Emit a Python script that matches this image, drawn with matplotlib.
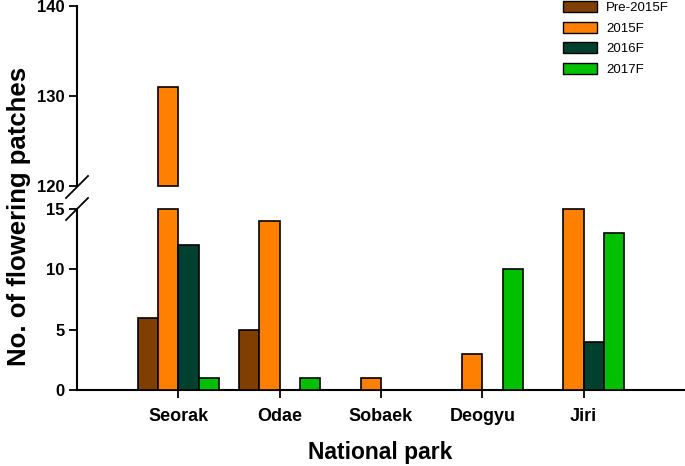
import numpy as np
import matplotlib.pyplot as plt
from matplotlib.patches import Patch

# data
parks = ['Seorak', 'Odae', 'Sobaek', 'Deogyu', 'Jiri']
series = ['Pre-2015F', '2015F', '2016F', '2017F']
pre2015 = [6, 5, 0, 0, 0]
f2015 = [131, 14, 1, 3, 15]
f2016 = [12, 0, 0, 0, 4]
f2017 = [1, 1, 0, 10, 13]
colors = ['#7f3f00', '#ff8000', '#00402f', '#00c000']

plt.rcParams['font.family'] = ['Liberation Sans', 'DejaVu Sans']

fig = plt.figure(figsize=(6.85, 4.66), dpi=100)
left, right = 77 / 685, 1.0
ax_top = fig.add_axes([left, 1 - 186 / 466, right - left, 180 / 466])
ax_bot = fig.add_axes([left, 1 - 390 / 466, right - left, 181 / 466])

x = np.arange(len(parks))
w = 0.2
for i, vals in enumerate([pre2015, f2015, f2016, f2017]):
    xs = x + (i - 1.5) * w
    for xi, v in zip(xs, vals):
        if v == 0:
            continue
        ax_bot.bar(xi, min(v, 15), w, color=colors[i], edgecolor='black',
                   linewidth=1.2, clip_on=False, zorder=3)
        if v > 120:
            ax_top.bar(xi, v - 120, w, bottom=120, color=colors[i],
                       edgecolor='black', linewidth=1.2, clip_on=False, zorder=3)

for ax in (ax_top, ax_bot):
    ax.set_xlim(-1, 5)
    for s in ('top', 'right'):
        ax.spines[s].set_visible(False)
    ax.spines['left'].set_linewidth(1.5)
    ax.tick_params(axis='y', direction='out', length=6, width=1.3, labelsize=12, pad=3)

ax_top.set_ylim(120, 140)
ax_top.set_yticks([120, 130, 140])
ax_top.spines['bottom'].set_visible(False)
ax_top.set_xticks([])
for lab in ax_top.get_yticklabels():
    lab.set_fontweight('bold')

ax_bot.set_ylim(0, 15)
ax_bot.set_yticks([0, 5, 10, 15])
ax_bot.spines['bottom'].set_linewidth(1.5)
ax_bot.set_xticks(x)
ax_bot.set_xticklabels(parks, fontsize=13, fontweight='bold')
ax_bot.tick_params(axis='x', direction='out', length=6, width=1.3, pad=7)
for lab in ax_bot.get_yticklabels():
    lab.set_fontweight('bold')

# break marks on the y axis
for yy in (187, 209):
    fig.add_artist(plt.Line2D([66 / 685, 88 / 685],
                              [1 - (yy + 11) / 466, 1 - (yy - 11) / 466],
                              color='black', linewidth=1.3))

handles = [Patch(facecolor=c, edgecolor='black', label=s) for c, s in zip(colors, series)]
ax_top.legend(handles=handles, loc='upper left', bbox_to_anchor=(0.779, 1.093),
              frameon=False, fontsize=9.5, handlelength=2.6, handleheight=0.9,
              labelspacing=0.57, handletextpad=0.7)

fig.text(19 / 685, 1 - 216 / 466, 'No. of flowering patches', rotation=90,
         ha='center', va='center', fontsize=18.5, fontweight='bold')
fig.text(380 / 685, 1 - 452 / 466, 'National park', ha='center', va='center',
         fontsize=16.5, fontweight='bold')

fig.savefig('out.png', dpi=100)
